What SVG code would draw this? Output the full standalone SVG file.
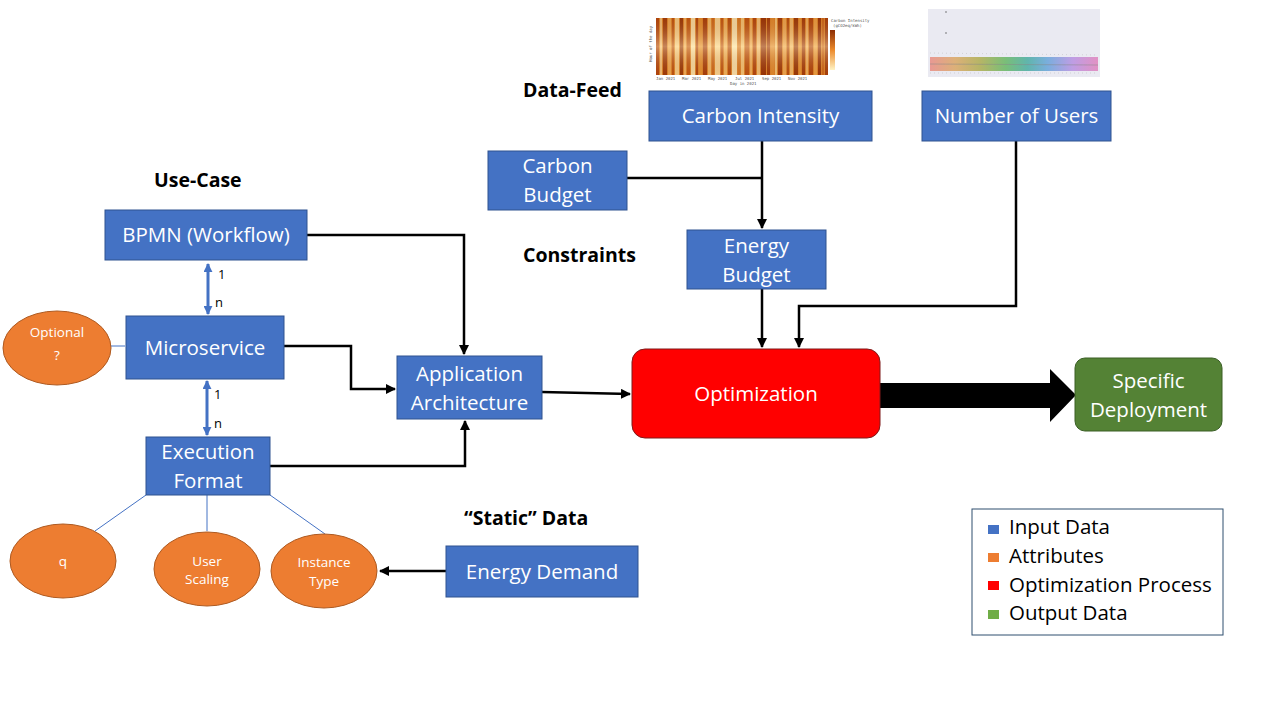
<svg xmlns="http://www.w3.org/2000/svg" width="1280" height="720" viewBox="0 0 1280 720">
<defs>
<style>
.box{fill:#4472C4;stroke:#2F528F;stroke-width:1}
.att{fill:#ED7D31;stroke:#AE5A21;stroke-width:1}
.t{font-family:"Open Sans","Noto Sans",sans-serif;font-size:20.5px;fill:#ffffff;text-anchor:middle}
.ts{font-family:"Open Sans","Noto Sans",sans-serif;font-size:13.5px;fill:#ffffff;text-anchor:middle}
.h{font-family:"Open Sans","Noto Sans",sans-serif;font-size:19.5px;font-weight:bold;fill:#000000}
.lg{font-family:"Open Sans","Noto Sans",sans-serif;font-size:20.5px;fill:#000000}
.num{font-family:"Open Sans","Noto Sans",sans-serif;font-size:13px;fill:#000000}
.con{fill:none;stroke:#000000;stroke-width:2.5}
.thin{fill:none;stroke:#4472C4;stroke-width:1}
.bl{fill:none;stroke:#4472C4;stroke-width:3}
.tiny{font-family:"DejaVu Sans Mono",monospace;font-size:4px;fill:#555555}
</style>
<marker id="ah" viewBox="0 0 10 10" refX="9" refY="5" markerWidth="4" markerHeight="4" orient="auto-start-reverse" markerUnits="strokeWidth">
<path d="M0,0 L10,5 L0,10 z" fill="#000000"/>
</marker>
<marker id="bh" viewBox="0 0 10 10" refX="9" refY="5" markerWidth="3" markerHeight="3" orient="auto-start-reverse" markerUnits="strokeWidth">
<path d="M0,0 L10,5 L0,10 z" fill="#4472C4"/>
</marker>
<linearGradient id="heatv" x1="0" y1="0" x2="0" y2="1">
<stop offset="0" stop-color="#7a2a03" stop-opacity="0.15"/><stop offset="0.5" stop-color="#fff3d0" stop-opacity="0.4"/><stop offset="1" stop-color="#7a2a03" stop-opacity="0.1"/>
</linearGradient>
<linearGradient id="cbar" x1="0" y1="0" x2="0" y2="1">
<stop offset="0" stop-color="#8c2d04"/><stop offset="0.5" stop-color="#ec8a2b"/><stop offset="1" stop-color="#fff3c4"/>
</linearGradient>
<linearGradient id="band" x1="0" y1="0" x2="1" y2="0">
<stop offset="0" stop-color="#e8857c"/><stop offset="0.15" stop-color="#d9a25a"/><stop offset="0.3" stop-color="#a8a843"/><stop offset="0.45" stop-color="#5db35a"/><stop offset="0.58" stop-color="#3ea89b"/><stop offset="0.7" stop-color="#5e9fd8"/><stop offset="0.85" stop-color="#b48ae0"/><stop offset="1" stop-color="#e07bb8"/>
</linearGradient>
</defs>
<rect width="1280" height="720" fill="#ffffff"/>

<g id="heatmap-chart">
<rect x="656" y="18" width="172" height="57" fill="#e0862a"/>
<g>
<rect x="656" y="18" width="3" height="57" fill="#b5480e"/>
<rect x="660" y="18" width="2" height="57" fill="#f7c57a"/>
<rect x="663" y="18" width="4" height="57" fill="#a23c09"/>
<rect x="668" y="18" width="3" height="57" fill="#f2ab52"/>
<rect x="672" y="18" width="2" height="57" fill="#c15611"/>
<rect x="675" y="18" width="4" height="57" fill="#fbd38a"/>
<rect x="680" y="18" width="3" height="57" fill="#9c3a08"/>
<rect x="684" y="18" width="2" height="57" fill="#f4b35e"/>
<rect x="687" y="18" width="3" height="57" fill="#c55a11"/>
<rect x="691" y="18" width="4" height="57" fill="#fde3a6"/>
<rect x="696" y="18" width="2" height="57" fill="#b2470d"/>
<rect x="699" y="18" width="3" height="57" fill="#e8922f"/>
<rect x="703" y="18" width="4" height="57" fill="#a9400b"/>
<rect x="708" y="18" width="3" height="57" fill="#f6bd69"/>
<rect x="712" y="18" width="2" height="57" fill="#d06c1d"/>
<rect x="715" y="18" width="5" height="57" fill="#fcd995"/>
<rect x="721" y="18" width="2" height="57" fill="#c35a14"/>
<rect x="724" y="18" width="3" height="57" fill="#f5b85f"/>
<rect x="728" y="18" width="3" height="57" fill="#b9500f"/>
<rect x="732" y="18" width="5" height="57" fill="#fde7b0"/>
<rect x="738" y="18" width="2" height="57" fill="#d77a25"/>
<rect x="741" y="18" width="3" height="57" fill="#f8c877"/>
<rect x="745" y="18" width="4" height="57" fill="#c15611"/>
<rect x="750" y="18" width="2" height="57" fill="#f4b25a"/>
<rect x="753" y="18" width="3" height="57" fill="#b5480e"/>
<rect x="757" y="18" width="3" height="57" fill="#f7c57a"/>
<rect x="761" y="18" width="5" height="57" fill="#9a3507"/>
<rect x="767" y="18" width="3" height="57" fill="#a53d0a"/>
<rect x="771" y="18" width="3" height="57" fill="#e48d2f"/>
<rect x="775" y="18" width="2" height="57" fill="#f8c877"/>
<rect x="778" y="18" width="4" height="57" fill="#a23c09"/>
<rect x="783" y="18" width="3" height="57" fill="#f2ab52"/>
<rect x="787" y="18" width="2" height="57" fill="#b9500f"/>
<rect x="790" y="18" width="3" height="57" fill="#f6bd69"/>
<rect x="794" y="18" width="4" height="57" fill="#9c3a08"/>
<rect x="799" y="18" width="2" height="57" fill="#e89734"/>
<rect x="802" y="18" width="3" height="57" fill="#a53d0a"/>
<rect x="806" y="18" width="2" height="57" fill="#f4b35e"/>
<rect x="809" y="18" width="4" height="57" fill="#b2470d"/>
<rect x="814" y="18" width="3" height="57" fill="#f0a445"/>
<rect x="818" y="18" width="3" height="57" fill="#9a3507"/>
<rect x="822" y="18" width="2" height="57" fill="#d06a1c"/>
<rect x="825" y="18" width="3" height="57" fill="#a9400b"/>
</g>
<rect x="656" y="18" width="172" height="57" fill="url(#heatv)"/>
<rect x="830" y="30" width="5" height="40" fill="url(#cbar)"/>
<text class="tiny" x="831" y="22">Carbon Intensity</text>
<text class="tiny" x="833" y="27">(gCO2eq/kWh)</text>
<text class="tiny" x="652" y="62" transform="rotate(-90 652 62)">Hour of the day</text>
<text class="tiny" x="656" y="80">Jan 2021</text>
<text class="tiny" x="682" y="80">Mar 2021</text>
<text class="tiny" x="708" y="80">May 2021</text>
<text class="tiny" x="735" y="80">Jul 2021</text>
<text class="tiny" x="762" y="80">Sep 2021</text>
<text class="tiny" x="788" y="80">Nov 2021</text>
<text class="tiny" x="730" y="85">Day in 2021</text>
</g>

<g id="users-chart">
<rect x="928" y="9" width="172" height="68" fill="#eaeaf2"/>
<rect x="930" y="57" width="168" height="14" fill="url(#band)" opacity="0.8"/>
<line x1="930" y1="64" x2="1098" y2="65" stroke="#888" stroke-width="0.5"/>
<line x1="930" y1="53" x2="1098" y2="55" stroke="#aaa" stroke-width="0.4" stroke-dasharray="1,3"/>
<line x1="930" y1="73" x2="1098" y2="73" stroke="#aaa" stroke-width="0.4" stroke-dasharray="1,3"/>
<circle cx="946" cy="12" r="0.8" fill="#666"/>
<circle cx="946" cy="33" r="0.8" fill="#666"/>
</g>

<g id="connectors">
<path class="con" d="M762,141 V228" marker-end="url(#ah)"/>
<path class="con" d="M627,178 H762"/>
<path class="con" d="M762,289 V347" marker-end="url(#ah)"/>
<path class="con" d="M1016,141 V306 H799 V347" marker-end="url(#ah)"/>
<path class="con" d="M307,235 H464 V354" marker-end="url(#ah)"/>
<path class="con" d="M284,346 H351 V389 H395" marker-end="url(#ah)"/>
<path class="con" d="M270,466 H465 V421" marker-end="url(#ah)"/>
<path class="con" d="M542,392 L630,394" marker-end="url(#ah)"/>
<path class="con" d="M446,571 H380" marker-end="url(#ah)"/>
<path d="M880,383 H1050 V369 L1076,395 L1050,422 V408 H880 Z" fill="#000000"/>
<path class="bl" d="M208,264 V314" marker-start="url(#bh)" marker-end="url(#bh)"/>
<path class="bl" d="M207,381 V435" marker-start="url(#bh)" marker-end="url(#bh)"/>
<path class="thin" d="M110,346 H125"/>
<path class="thin" d="M146,495 L95,531"/>
<path class="thin" d="M207,495 V531"/>
<path class="thin" d="M270,495 L325,534"/>
<text class="num" x="218" y="279">1</text>
<text class="num" x="215" y="307">n</text>
<text class="num" x="214" y="399">1</text>
<text class="num" x="214" y="428">n</text>
</g>

<g id="labels">
<text class="h" x="523" y="97">Data-Feed</text>
<text class="h" x="154" y="187">Use-Case</text>
<text class="h" x="523" y="262">Constraints</text>
<text class="h" x="464" y="525">“Static” Data</text>
</g>

<g id="carbon-intensity">
<rect class="box" x="649" y="91" width="223" height="50"/>
<text class="t" x="760.5" y="123">Carbon Intensity</text>
</g>
<g id="number-of-users">
<rect class="box" x="922" y="91" width="189" height="50"/>
<text class="t" x="1016.5" y="123">Number of Users</text>
</g>
<g id="carbon-budget">
<rect class="box" x="488" y="151" width="139" height="59"/>
<text class="t" x="557.5" y="173">Carbon</text>
<text class="t" x="557.5" y="202">Budget</text>
</g>
<g id="bpmn">
<rect class="box" x="105" y="210" width="202" height="50"/>
<text class="t" x="206" y="242">BPMN (Workflow)</text>
</g>
<g id="energy-budget">
<rect class="box" x="687" y="230" width="139" height="59"/>
<text class="t" x="756.5" y="253">Energy</text>
<text class="t" x="756.5" y="282">Budget</text>
</g>
<g id="microservice">
<rect class="box" x="126" y="316" width="158" height="63"/>
<text class="t" x="205" y="355">Microservice</text>
</g>
<g id="optional">
<ellipse class="att" cx="57" cy="348" rx="54" ry="37"/>
<text class="ts" x="57" y="337">Optional</text>
<text class="ts" x="57" y="360">?</text>
</g>
<g id="application-architecture">
<rect class="box" x="397" y="356" width="145" height="63"/>
<text class="t" x="469.5" y="381">Application</text>
<text class="t" x="469.5" y="410">Architecture</text>
</g>
<g id="optimization">
<rect x="632" y="349" width="248" height="89" rx="13" ry="13" fill="#FF0000" stroke="#7F1A1A" stroke-width="1"/>
<text class="t" x="756" y="401">Optimization</text>
</g>
<g id="specific-deployment">
<rect x="1075" y="358" width="147" height="73" rx="10" ry="10" fill="#548235" stroke="#3A5F25" stroke-width="1"/>
<text class="t" x="1148.5" y="388">Specific</text>
<text class="t" x="1148.5" y="417">Deployment</text>
</g>
<g id="execution-format">
<rect class="box" x="146" y="437" width="124" height="58"/>
<text class="t" x="208" y="459">Execution</text>
<text class="t" x="208" y="488">Format</text>
</g>
<g id="q">
<ellipse class="att" cx="63" cy="561" rx="53" ry="37"/>
<text class="ts" x="63" y="566">q</text>
</g>
<g id="user-scaling">
<ellipse class="att" cx="207" cy="569" rx="53" ry="37"/>
<text class="ts" x="207" y="566">User</text>
<text class="ts" x="207" y="584">Scaling</text>
</g>
<g id="instance-type">
<ellipse class="att" cx="324" cy="571" rx="53" ry="37"/>
<text class="ts" x="324" y="567">Instance</text>
<text class="ts" x="324" y="586">Type</text>
</g>
<g id="energy-demand">
<rect class="box" x="446" y="546" width="192" height="51"/>
<text class="t" x="542" y="579">Energy Demand</text>
</g>

<g id="legend">
<rect x="972" y="509" width="251" height="126" fill="#ffffff" stroke="#2F4F6F" stroke-width="1"/>
<rect x="988" y="525" width="11" height="9" fill="#4472C4"/>
<text class="lg" x="1009" y="534">Input Data</text>
<rect x="988" y="553" width="11" height="9" fill="#ED7D31"/>
<text class="lg" x="1009" y="563">Attributes</text>
<rect x="988" y="581" width="11" height="9" fill="#FF0000"/>
<text class="lg" x="1009" y="592">Optimization Process</text>
<rect x="988" y="610" width="11" height="9" fill="#70AD47"/>
<text class="lg" x="1009" y="620">Output Data</text>
</g>
</svg>
